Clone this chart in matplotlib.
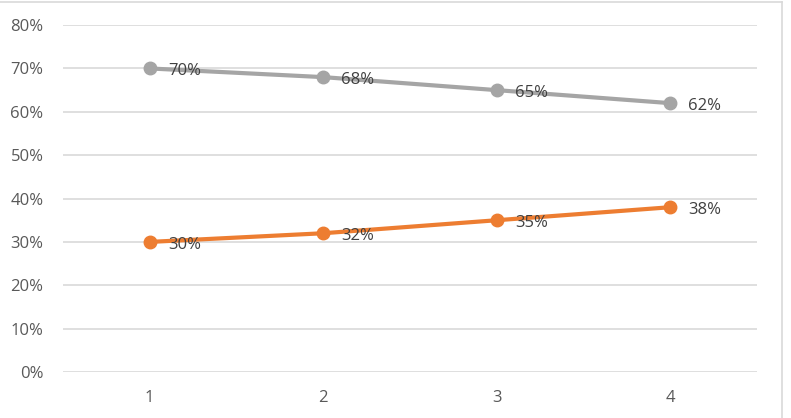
import matplotlib.pyplot as plt
from matplotlib.lines import Line2D
from matplotlib.ticker import FuncFormatter

# values
categories = [1, 2, 3, 4]
series_gray = [0.70, 0.68, 0.65, 0.62]
series_orange = [0.30, 0.32, 0.35, 0.38]
y_ticks = [0, 0.1, 0.2, 0.3, 0.4, 0.5, 0.6, 0.7, 0.8]

plt.rcParams['font.family'] = ['Open Sans', 'DejaVu Sans']

fig = plt.figure(figsize=(7.91, 4.18), dpi=100)
ax = fig.add_axes([0.0796, 0.110, 0.8774, 0.830])

ax.plot(categories, series_gray, color='#A5A5A5', lw=3, marker='o', ms=9,
        solid_capstyle='round', zorder=3)
ax.plot(categories, series_orange, color='#ED7D31', lw=3, marker='o', ms=9,
        solid_capstyle='round', zorder=3)

# data labels to the right of each point
for series in (series_gray, series_orange):
    for x, v in zip(categories, series):
        ax.annotate(f'{v:.0%}', (x, v), xytext=(13, -2), textcoords='offset points',
                    ha='left', va='center', fontsize=12, color='#404040', zorder=4)

ax.set_xlim(0.5, 4.5)
ax.set_ylim(0, 0.8)
ax.set_xticks(categories)
ax.set_yticks(y_ticks)
ax.yaxis.set_major_formatter(FuncFormatter(lambda v, p: f'{v:.0%}'))
ax.grid(axis='y', color='#D9D9D9', lw=1.2)
ax.set_axisbelow(True)
for s in ax.spines.values():
    s.set_visible(False)
ax.tick_params(length=0, labelsize=12, labelcolor='#595959')
ax.tick_params(axis='y', pad=14)
ax.tick_params(axis='x', pad=13)

# chart border (top and right edges visible in the crop)
fig.add_artist(Line2D([0, 782 / 791], [1 - 1.5 / 418] * 2, transform=fig.transFigure,
                      color='#D9D9D9', lw=1.2))
fig.add_artist(Line2D([782 / 791] * 2, [0, 1 - 1.5 / 418], transform=fig.transFigure,
                      color='#D9D9D9', lw=1.2))

fig.savefig('out.png', dpi=100)
